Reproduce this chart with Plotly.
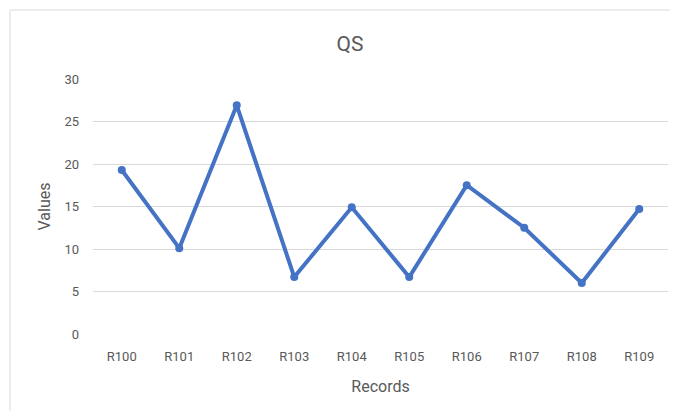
import plotly.graph_objects as go

records = ["R100", "R101", "R102", "R103", "R104", "R105", "R106", "R107", "R108", "R109"]
values = [19.3, 10.1, 26.9, 6.7, 14.9, 6.7, 17.5, 12.5, 6.0, 14.7]
y_ticks = [0, 5, 10, 15, 20, 25, 30]

FONT = "Roboto, Liberation Sans, sans-serif"
GREY = "#595959"

# page body has an 8px margin; compensate so plot area lands at 93..668 x 79..334
W, H = 670, 403
fig = go.Figure()
fig.add_trace(go.Scatter(
    x=records, y=values, mode="lines+markers",
    line=dict(color="#4472C4", width=4),
    marker=dict(color="#4472C4", size=8),
    showlegend=False,
))

fig.update_layout(
    width=W, height=H,
    margin=dict(l=85, r=10, t=71, b=77),
    paper_bgcolor="white", plot_bgcolor="white",
    font=dict(family=FONT, color=GREY, size=13),
    title=dict(text="QS", x=(350 - 93) / 575, xref="paper", xanchor="center",
               y=1 - 36 / H, yref="container", yanchor="middle",
               font=dict(size=21, color=GREY, family=FONT)),
    xaxis=dict(
        type="category", range=[-0.5, 9.5], showgrid=False, zeroline=False,
        showline=False, ticks="", ticklabelstandoff=13,
        tickfont=dict(size=13, color=GREY),
        title=dict(text="Records", font=dict(size=16, color=GREY), standoff=17),
    ),
    yaxis=dict(
        range=[0, 30], tickvals=y_ticks, showgrid=True, gridcolor="#D9D9D9",
        gridwidth=1, zeroline=False, showline=False, ticks="",
        ticklabelstandoff=13, tickfont=dict(size=13, color=GREY),
        title=dict(text="Values", font=dict(size=16, color=GREY), standoff=9),
    ),
    shapes=[dict(type="rect", xref="paper", yref="paper",
                 x0=(10 - 93) / 575, x1=1.2, y0=-0.4, y1=(334 - 10) / 255,
                 line=dict(color="#D9D9D9", width=1), fillcolor="rgba(0,0,0,0)",
                 layer="below")],
)

fig.write_html("out.html")
